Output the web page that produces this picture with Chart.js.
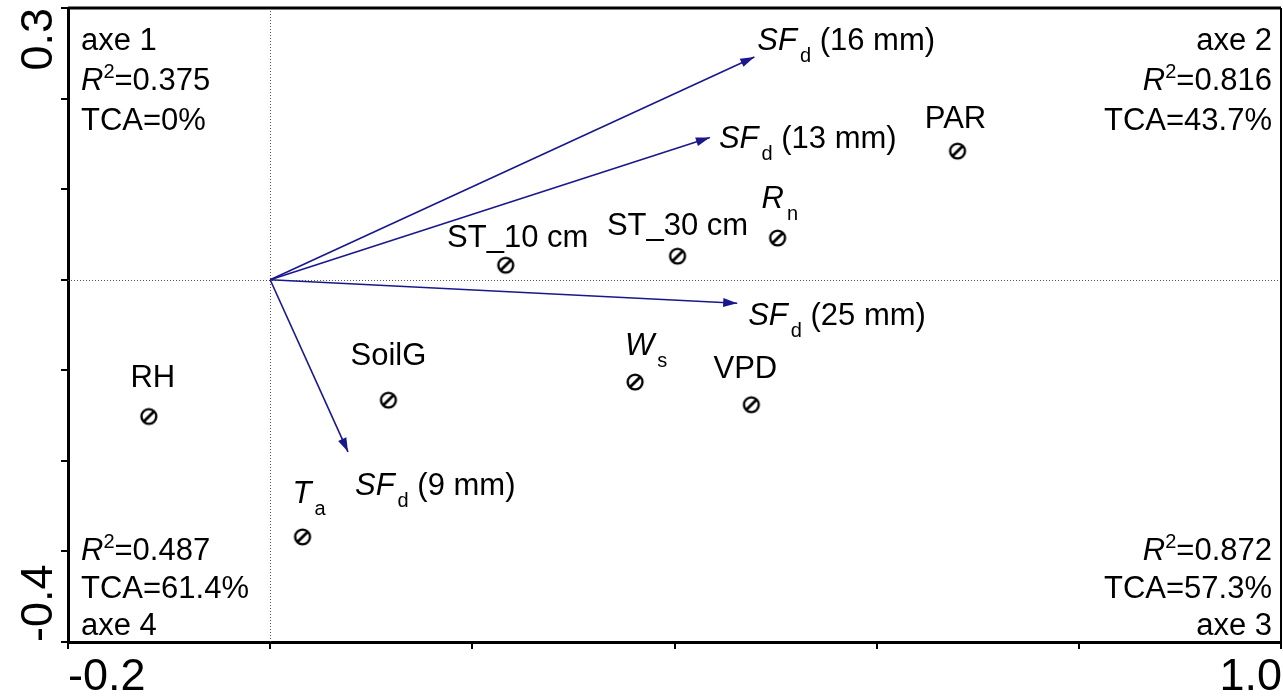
<!DOCTYPE html>
<html>
<head>
<meta charset="utf-8">
<script src="https://cdn.jsdelivr.net/npm/chart.js@4.4.1/dist/chart.umd.min.js"></script>
<style>
html, body { margin: 0; padding: 0; background: #fff; }
#wrap { width: 1283px; height: 696px; position: relative; }
</style>
</head>
<body>
<div id="wrap"><canvas id="rdaChart"></canvas></div>
<script>
// environmental variables (RDA scores)
var envNames = ['PAR', 'Rn', 'ST_30 cm', 'ST_10 cm', 'Ws', 'VPD', 'SoilG', 'RH', 'Ta'];
var envX = [0.680, 0.502, 0.403, 0.233, 0.361, 0.476, 0.117, -0.120, 0.032];
var envY = [0.142, 0.046, 0.026, 0.016, -0.113, -0.138, -0.133, -0.151, -0.284];

// sap flux density arrows, by sensor depth
var sfDepths = ['9 mm', '13 mm', '16 mm', '25 mm'];
var sfX = [0.077, 0.435, 0.479, 0.462];
var sfY = [-0.190, 0.157, 0.246, -0.026];

var xTickLabels = ['-0.2', '1.0'];
var yTickLabels = ['0.3', '-0.4'];

var axeNames = ['axe 1', 'axe 2', 'axe 3', 'axe 4'];
var axeR2 = ['0.375', '0.816', '0.872', '0.487'];
var axeTCA = ['0%', '43.7%', '57.3%', '61.4%'];

var FONT = "'Liberation Sans', Arial, sans-serif";
var NAVY = 'rgb(24,24,140)';

// how each name is typeset (italic / subscript parts)
var envParts = {
  'Rn': [['R', 'i'], ['n', 'sub']],
  'Ws': [['W', 'i'], ['s', 'sub']],
  'Ta': [['T', 'i'], ['a', 'sub']]
};
// label placement relative to the symbol, in px: [dx, dy, align]
var envLabelPos = {
  'PAR': [-2, -23, 'center'],
  'Rn': [-16, -30, 'left'],
  'ST_30 cm': [0, -21, 'center'],
  'ST_10 cm': [12, -18, 'center'],
  'Ws': [-10, -27, 'left'],
  'VPD': [-6, -27, 'center'],
  'SoilG': [0, -35, 'center'],
  'RH': [4, -29, 'center'],
  'Ta': [-10, -34, 'left']
};
var sfLabelPos = [[7, 43], [9, 10], [3, -7], [11, 22]];

function partFont(style) {
  if (style === 'i') return 'italic 31px ' + FONT;
  if (style === 'sub' || style === 'sup') return '20px ' + FONT;
  return '31px ' + FONT;
}

function drawParts(ctx, parts, x, y, align) {
  var w = 0, widths = [];
  parts.forEach(function (p) {
    ctx.font = partFont(p[1]);
    var pw = ctx.measureText(p[0]).width + (p[1] === 'sub' ? 3 : 0);
    widths.push(pw);
    w += pw;
  });
  var cx = x;
  if (align === 'center') cx = x - w / 2;
  if (align === 'right') cx = x - w;
  ctx.textAlign = 'left';
  ctx.textBaseline = 'alphabetic';
  parts.forEach(function (p, i) {
    ctx.font = partFont(p[1]);
    var dy = 0, dx = 0;
    if (p[1] === 'sub') { dy = 12; dx = 3; }
    if (p[1] === 'sup') { dy = -12; }
    ctx.fillText(p[0], cx + dx, y + dy);
    cx += widths[i];
  });
}

function makeSymbol() {
  var c = document.createElement('canvas');
  c.width = 22; c.height = 22;
  var g = c.getContext('2d');
  g.fillStyle = '#fff';
  g.strokeStyle = '#000';
  g.lineWidth = 2.4;
  g.beginPath(); g.arc(11, 11, 7.4, 0, Math.PI * 2); g.fill(); g.stroke();
  g.lineWidth = 2.8;
  g.beginPath(); g.moveTo(6.2, 15.8); g.lineTo(15.8, 6.2); g.stroke();
  return c;
}

var datasets = [];
for (var i = 0; i < sfDepths.length; i++) {
  datasets.push({
    label: 'SFd (' + sfDepths[i] + ')',
    data: [{ x: 0, y: 0 }, { x: sfX[i], y: sfY[i] }],
    showLine: true,
    borderColor: NAVY,
    borderWidth: 1.6,
    pointRadius: 0,
    isArrow: true
  });
}
datasets.push({
  label: 'env',
  data: envX.map(function (v, k) { return { x: v, y: envY[k] }; }),
  pointStyle: makeSymbol(),
  pointRadius: 11
});

var rdaPlugin = {
  id: 'rdaDecor',
  beforeDatasetsDraw: function (chart) {
    var ctx = chart.ctx, a = chart.chartArea;
    var x0 = chart.scales.x.getPixelForValue(0);
    var y0 = chart.scales.y.getPixelForValue(0);
    ctx.save();
    ctx.strokeStyle = '#555';
    ctx.lineWidth = 1;
    ctx.setLineDash([1, 2]);
    ctx.beginPath();
    ctx.moveTo(Math.round(x0) + 0.5, a.top); ctx.lineTo(Math.round(x0) + 0.5, a.bottom);
    ctx.moveTo(a.left, Math.round(y0) + 0.5); ctx.lineTo(a.right, Math.round(y0) + 0.5);
    ctx.stroke();
    ctx.restore();
  },
  afterDatasetsDraw: function (chart) {
    var ctx = chart.ctx, a = chart.chartArea;
    ctx.save();
    // arrowheads
    chart.data.datasets.forEach(function (ds, di) {
      if (!ds.isArrow) return;
      var pts = chart.getDatasetMeta(di).data;
      var p0 = pts[0], p1 = pts[1];
      var ang = Math.atan2(p1.y - p0.y, p1.x - p0.x);
      ctx.save();
      ctx.translate(p1.x, p1.y);
      ctx.rotate(ang);
      ctx.fillStyle = NAVY;
      ctx.beginPath();
      ctx.moveTo(0, 0); ctx.lineTo(-14, -4.5); ctx.lineTo(-14, 4.5); ctx.closePath();
      ctx.fill();
      ctx.restore();
    });
    ctx.fillStyle = '#000';
    // arrow labels
    var arrowCount = sfDepths.length;
    for (var i = 0; i < arrowCount; i++) {
      var tip = chart.getDatasetMeta(i).data[1];
      var off = sfLabelPos[i];
      drawParts(ctx, [['SF', 'i'], ['d', 'sub'], [' (' + sfDepths[i] + ')', '']], tip.x + off[0], tip.y + off[1], 'left');
    }
    // symbol labels
    var envMeta = chart.getDatasetMeta(arrowCount).data;
    envNames.forEach(function (name, k) {
      var pt = envMeta[k];
      var pos = envLabelPos[name];
      var parts = envParts[name] || [[name, '']];
      drawParts(ctx, parts, pt.x + pos[0], pt.y + pos[1], pos[2]);
    });
    // corner annotations
    var lx = a.left + 13, rx = a.right - 9;
    function block(i, x, align, top) {
      var r2 = [['R', 'i'], ['2', 'sup'], ['=' + axeR2[i], '']];
      var tca = [['TCA=' + axeTCA[i], '']];
      var nm = [[axeNames[i], '']];
      if (top) {
        drawParts(ctx, nm, x, a.top + 42, align);
        drawParts(ctx, r2, x, a.top + 82, align);
        drawParts(ctx, tca, x, a.top + 122, align);
      } else {
        drawParts(ctx, r2, x, a.bottom - 82, align);
        drawParts(ctx, tca, x, a.bottom - 44, align);
        drawParts(ctx, nm, x, a.bottom - 7, align);
      }
    }
    block(0, lx, 'left', true);
    block(1, rx, 'right', true);
    block(2, rx, 'right', false);
    block(3, lx, 'left', false);
    ctx.restore();
  },
  afterDraw: function (chart) {
    var ctx = chart.ctx, a = chart.chartArea;
    var sx = chart.scales.x, sy = chart.scales.y;
    ctx.save();
    // top and right frame
    ctx.strokeStyle = '#000';
    ctx.lineWidth = 3;
    ctx.beginPath();
    ctx.moveTo(a.left, a.top); ctx.lineTo(a.right, a.top);
    ctx.stroke();
    ctx.lineWidth = 2;
    ctx.beginPath();
    ctx.moveTo(a.right, a.top); ctx.lineTo(a.right, a.bottom);
    ctx.stroke();
    // end tick labels
    ctx.fillStyle = '#000';
    ctx.font = '45px ' + FONT;
    ctx.textBaseline = 'alphabetic';
    ctx.textAlign = 'left';
    ctx.fillText(xTickLabels[0], sx.getPixelForValue(parseFloat(xTickLabels[0])), 690);
    ctx.textAlign = 'right';
    ctx.fillText(xTickLabels[1], sx.getPixelForValue(parseFloat(xTickLabels[1])) + 1, 690);
    ctx.save();
    ctx.translate(52, sy.getPixelForValue(parseFloat(yTickLabels[0])));
    ctx.rotate(-Math.PI / 2);
    ctx.textAlign = 'right';
    ctx.fillText(yTickLabels[0], 0, 0);
    ctx.restore();
    ctx.save();
    ctx.translate(52, sy.getPixelForValue(parseFloat(yTickLabels[1])));
    ctx.rotate(-Math.PI / 2);
    ctx.textAlign = 'left';
    ctx.fillText(yTickLabels[1], 0, 0);
    ctx.restore();
    ctx.restore();
  }
};

var ctx = document.getElementById('rdaChart').getContext('2d');
var rdaChart = new Chart(ctx, {
  type: 'scatter',
  data: { datasets: datasets },
  options: {
    responsive: true,
    maintainAspectRatio: false,
    animation: false,
    events: [],
    layout: { padding: { left: 61, top: 8, right: 2, bottom: 47 }, autoPadding: false },
    plugins: { legend: { display: false }, tooltip: { enabled: false } },
    scales: {
      x: {
        type: 'linear',
        min: -0.2,
        max: 1.0,
        ticks: { display: false, stepSize: 0.2 },
        grid: { drawOnChartArea: false, drawTicks: true, tickLength: 7, lineWidth: 2, color: '#000' },
        border: { display: true, color: '#000', width: 3 }
      },
      y: {
        type: 'linear',
        min: -0.4,
        max: 0.3,
        ticks: { display: false, stepSize: 0.1 },
        grid: { drawOnChartArea: false, drawTicks: true, tickLength: 7, lineWidth: 2, color: '#000' },
        border: { display: true, color: '#000', width: 3 }
      }
    }
  },
  plugins: [rdaPlugin]
});
</script>
</body>
</html>
